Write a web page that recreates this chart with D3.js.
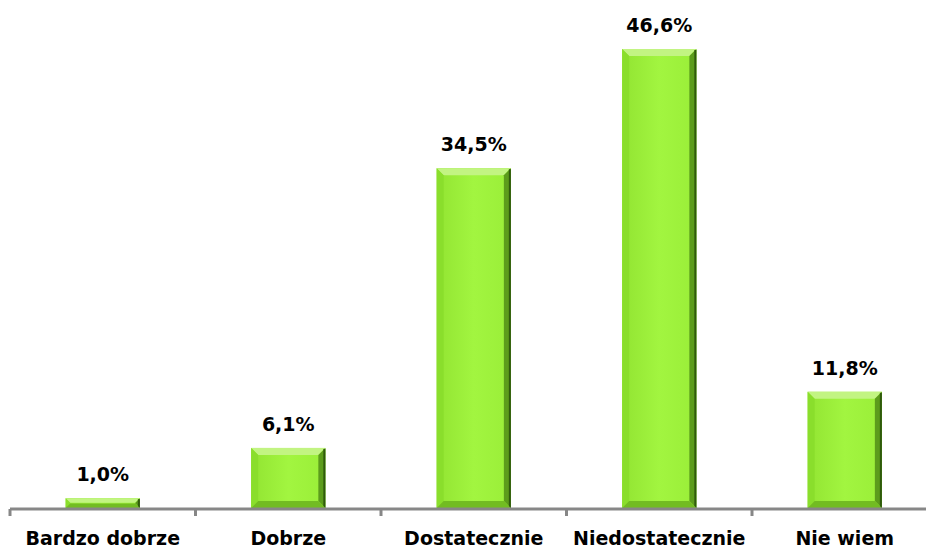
<!DOCTYPE html>
<html><head><meta charset="utf-8">
<script src="https://cdn.jsdelivr.net/npm/d3@7"></script>
<style>body{margin:0;background:#fff}svg{display:block}</style>
</head><body>
<script>
const categories = ["Bardzo dobrze", "Dobrze", "Dostatecznie", "Niedostatecznie", "Nie wiem"];
const values = [1.0, 6.1, 34.5, 46.6, 11.8];
const valueLabels = ["1,0%", "6,1%", "34,5%", "46,6%", "11,8%"];

const W = 926, H = 552;
const svg = d3.select("body").append("svg").attr("width", W).attr("height", H);
const defs = svg.append("defs");
const g1 = defs.append("linearGradient").attr("id","face").attr("x1",0).attr("x2",1).attr("y1",0).attr("y2",0);
g1.append("stop").attr("offset","0").attr("stop-color","#92e432");
g1.append("stop").attr("offset","0.5").attr("stop-color","#a2f540");
g1.append("stop").attr("offset","1").attr("stop-color","#9aee38");

const x0 = 10, band = 185.5;
const x = d3.scaleBand().domain(categories).range([x0, x0 + band*5]).paddingInner(0.6).paddingOuter(0.3);
const y = d3.scaleLinear().domain([0, 46.6]).range([508, 49]);

const bw = x.bandwidth();
const gb = svg.append("g");
categories.forEach((c,i)=>{
  const xl = x(c), xr = xl + bw, yt = y(values[i]), yb = y(0);
  const h = yb - yt;
  const e = Math.min(7, h/2.2);
  const g = gb.append("g");
  g.append("rect").attr("x",xl).attr("y",yt).attr("width",bw).attr("height",h).attr("fill","url(#face)");
  g.append("polygon").attr("points",[[xl,yt],[xr,yt],[xr-e,yt+e],[xl+e,yt+e]].join(" ")).attr("fill","#c2f482");
  g.append("polygon").attr("points",[[xl,yt],[xl+e,yt+e],[xl+e,yb-e],[xl,yb]].join(" ")).attr("fill","#8ade2c");
  g.append("polygon").attr("points",[[xr,yt],[xr,yb],[xr-e,yb-e],[xr-e,yt+e]].join(" ")).attr("fill","#5c9c1c");
  g.append("rect").attr("x",xr-2).attr("y",yt+1).attr("width",2).attr("height",h-1).attr("fill","#2f5a0c");
  g.append("polygon").attr("points",[[xl,yb],[xr,yb],[xr-e,yb-e],[xl+e,yb-e]].join(" ")).attr("fill","#72bc22");
  g.append("text").attr("x",xl+bw/2).attr("y",yt-17).attr("text-anchor","middle")
    .attr("font-family","DejaVu Sans").attr("font-weight","bold").attr("font-size",19).attr("fill","#000")
    .text(valueLabels[i]);
});

const ax = svg.append("g");
ax.append("line").attr("x1",x0).attr("x2",W).attr("y1",509).attr("y2",509).attr("stroke","#878787").attr("stroke-width",3);
for(let i=0;i<=5;i++){
  const tx = x0 + band*i;
  ax.append("line").attr("x1",tx).attr("x2",tx).attr("y1",509).attr("y2",516).attr("stroke","#878787").attr("stroke-width",3);
}
categories.forEach((c,i)=>{
  svg.append("text").attr("x",x(c)+bw/2).attr("y",545).attr("text-anchor","middle")
    .attr("font-family","DejaVu Sans").attr("font-weight","bold").attr("font-size",19).attr("fill","#000")
    .text(c);
});
</script>
</body></html>
